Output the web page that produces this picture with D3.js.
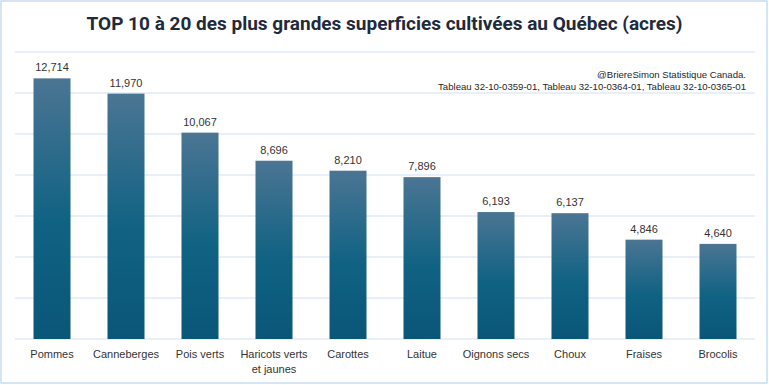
<!DOCTYPE html>
<html>
<head>
<meta charset="utf-8">
<script src="https://cdn.jsdelivr.net/npm/d3@7"></script>
<style>
  body { margin: 0; background: #fff; }
  svg { display: block; }
</style>
</head>
<body>
<svg id="chart" width="769" height="385"></svg>
<script>
const categories = ["Pommes", "Canneberges", "Pois verts", "Haricots verts et jaunes", "Carottes",
  "Laitue", "Oignons secs", "Choux", "Fraises", "Brocolis"];
const values = [12714, 11970, 10067, 8696, 8210, 7896, 6193, 6137, 4846, 4640];
const yTicks = [0, 2000, 4000, 6000, 8000, 10000, 12000, 14000];
const titleText = "TOP 10 à 20 des plus grandes superficies cultivées au Québec (acres)";
const sourceLines = ["@BriereSimon Statistique Canada.",
  "Tableau 32-10-0359-01, Tableau 32-10-0364-01, Tableau 32-10-0365-01"];

const svg = d3.select("#chart");
const W = 769, H = 385;
const margin = {top: 52, right: 14, bottom: 46, left: 15};
const width = W - margin.left - margin.right;
const height = H - margin.top - margin.bottom;

svg.append("rect")
  .attr("x", 1).attr("y", 1)
  .attr("width", W - 3).attr("height", H - 3)
  .attr("fill", "#fff")
  .attr("stroke", "#c9dcf0")
  .attr("stroke-width", 1.5);

const grad = svg.append("defs").append("linearGradient")
  .attr("id", "barGrad")
  .attr("x1", 0).attr("y1", 0).attr("x2", 0).attr("y2", 1);
grad.append("stop").attr("offset", "0%").attr("stop-color", "#4b7593");
grad.append("stop").attr("offset", "55%").attr("stop-color", "#106283");
grad.append("stop").attr("offset", "100%").attr("stop-color", "#0a5678");

svg.append("text")
  .attr("x", W / 2).attr("y", 30)
  .attr("text-anchor", "middle")
  .attr("font-family", "'Liberation Sans Narrow', 'Roboto', sans-serif")
  .attr("font-weight", "bold")
  .attr("font-size", 19)
  .attr("fill", "#1f2a3c")
  .text(titleText);

const g = svg.append("g")
  .attr("transform", `translate(${margin.left},${margin.top})`);

const x = d3.scaleBand()
  .domain(categories)
  .range([0, width])
  .paddingInner(0.5)
  .paddingOuter(0.25);

const y = d3.scaleLinear()
  .domain([0, 14000])
  .range([height, 0]);

g.selectAll("line.grid")
  .data(yTicks)
  .join("line")
  .attr("class", "grid")
  .attr("x1", 0).attr("x2", width)
  .attr("y1", d => y(d)).attr("y2", d => y(d))
  .attr("stroke", "#cfe0f2")
  .attr("stroke-width", 1.2);

g.selectAll("rect.bar")
  .data(values)
  .join("rect")
  .attr("class", "bar")
  .attr("x", (d, i) => x(categories[i]))
  .attr("y", d => y(d))
  .attr("width", x.bandwidth())
  .attr("height", d => y(0) - y(d))
  .attr("fill", "url(#barGrad)");

g.selectAll("text.val")
  .data(values)
  .join("text")
  .attr("class", "val")
  .attr("x", (d, i) => x(categories[i]) + x.bandwidth() / 2)
  .attr("y", d => y(d) - 7)
  .attr("text-anchor", "middle")
  .attr("font-family", "'Liberation Sans', Arial, sans-serif")
  .attr("font-size", 11)
  .attr("fill", "#333")
  .text(d => d3.format(",")(d));

// category labels, long one wrapped on two lines
const wrapMap = {"Haricots verts et jaunes": ["Haricots verts", "et jaunes"]};
const cat = g.selectAll("text.cat")
  .data(categories)
  .join("text")
  .attr("class", "cat")
  .attr("x", d => x(d) + x.bandwidth() / 2)
  .attr("y", height + 19)
  .attr("text-anchor", "middle")
  .attr("font-family", "'Liberation Sans Narrow', 'Liberation Sans', sans-serif")
  .attr("font-size", 11)
  .attr("fill", "#333");
cat.each(function(d) {
  const lines = wrapMap[d] || [d];
  d3.select(this).selectAll("tspan")
    .data(lines)
    .join("tspan")
    .attr("x", x(d) + x.bandwidth() / 2)
    .attr("dy", (l, i) => i === 0 ? 0 : 15)
    .text(l => l);
});

svg.selectAll("text.src")
  .data(sourceLines)
  .join("text")
  .attr("class", "src")
  .attr("x", 746)
  .attr("y", (d, i) => 78 + i * 12)
  .attr("text-anchor", "end")
  .attr("font-family", "'Liberation Sans Narrow', 'Liberation Sans', sans-serif")
  .attr("font-size", 9.6)
  .attr("fill", "#1f1f1f")
  .text(d => d);
</script>
</body>
</html>
